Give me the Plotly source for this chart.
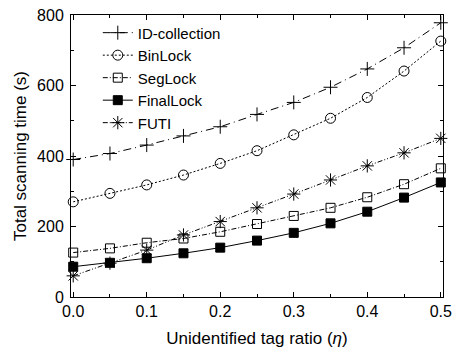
import plotly.graph_objects as go

eta = [0.0, 0.05, 0.1, 0.15, 0.2, 0.25, 0.3, 0.35, 0.4, 0.45, 0.5]

id_collection = [390, 407, 431, 457, 483, 518, 552, 595, 647, 707, 778]
binlock = [270, 294, 318, 346, 379, 415, 460, 507, 566, 641, 726]
seglock = [126, 138, 154, 166, 185, 207, 230, 253, 283, 320, 365]
finallock = [86, 97, 110, 124, 140, 160, 182, 209, 242, 282, 325]
futi = [60, 96, 133, 176, 214, 253, 292, 332, 372, 409, 450]

x_ticks = [0.0, 0.1, 0.2, 0.3, 0.4, 0.5]
x_ticklabels = ["0.0", "0.1", "0.2", "0.3", "0.4", "0.5"]
y_ticks = [0, 200, 400, 600, 800]

series = [
    ("ID-collection", id_collection, "8px,4px,1px,4px", "cross-thin", 10),
    ("BinLock", binlock, "2px,2px", "circle-open", 10),
    ("SegLock", seglock, "5px,2px,1px,2px", "square-open", 9),
    ("FinalLock", finallock, "solid", "square", 9),
    ("FUTI", futi, "5px,2px,1px,2px,1px,2px", "asterisk", 11),
]

fig = go.Figure()
for name, ys, dash, symbol, size in series:
    fig.add_trace(go.Scatter(
        x=eta, y=ys, name=name, mode="lines+markers",
        line=dict(color="black", width=1, dash=dash),
        marker=dict(symbol=symbol, size=size, color="black",
                    line=dict(color="black", width=1)),
        cliponaxis=False,
    ))

axis_common = dict(
    showgrid=False, zeroline=False, showline=True, linecolor="black",
    linewidth=1, mirror="ticks", ticks="inside", ticklen=5,
    tickcolor="black", tickfont=dict(size=16, color="black"),
)

fig.update_xaxes(
    range=[-0.003, 0.503], tickvals=x_ticks, ticktext=x_ticklabels,
    ticklabeloverflow="allow",
    minor=dict(ticks="inside", dtick=0.05, tick0=0, ticklen=3, tickcolor="black"),
    title=dict(text="Unidentified tag ratio (<i>η</i>)",
               font=dict(size=17, color="black"), standoff=12),
    **axis_common,
)
fig.update_yaxes(
    range=[0, 800], tickvals=y_ticks,
    ticklabeloverflow="allow", ticklabelstandoff=3,
    minor=dict(ticks="inside", dtick=100, tick0=0, ticklen=3, tickcolor="black"),
    title=dict(text="Total scanning time (s)",
               font=dict(size=17, color="black"), standoff=6),
    **axis_common,
)

fig.update_layout(
    width=459, height=356,
    margin=dict(l=71, r=7, t=15, b=59),
    plot_bgcolor="white", paper_bgcolor="white",
    font=dict(family="Liberation Sans, Arial, sans-serif", color="black"),
    showlegend=True,
    legend=dict(x=0.072, y=0.995, xanchor="left", yanchor="top",
                bgcolor="rgba(0,0,0,0)", font=dict(size=15),
                tracegroupgap=0),
)

fig.write_html("out.html")
